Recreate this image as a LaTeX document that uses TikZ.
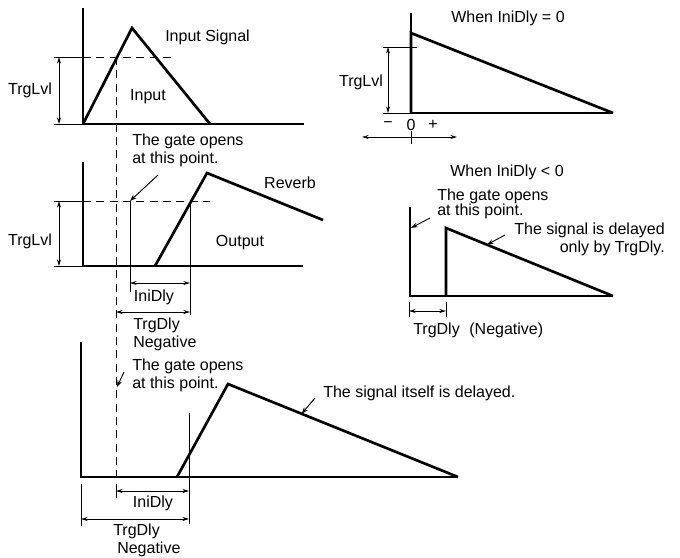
\documentclass[tikz,border=0pt]{standalone}
\usepackage{fontspec}
\setmainfont{Liberation Sans}
\usetikzlibrary{arrows.meta,positioning}

\begin{document}
\begin{tikzpicture}[
        x=0.75pt, y=-0.75pt,
        sig/.style={line width=2pt, line join=miter},
        axis/.style={line width=0.9pt},
        ext/.style={line width=0.6pt},
        gate/.style={line width=0.7pt, dash pattern=on 6pt off 4pt},
        dim/.style={line width=0.7pt, {Stealth[length=5pt,width=3pt]}-{Stealth[length=5pt,width=3pt]}},
        pointer/.style={line width=0.7pt, -{Stealth[length=5pt,width=3.5pt]}},
        lbl/.style={font=\fontsize{12}{13.5}\selectfont, inner sep=0pt},
        note/.style={lbl, align=left, font=\fontsize{12}{13.5}\selectfont}
    ]
    \useasboundingbox (0,0) rectangle (680,557);

    % input signal
    \draw[axis] (83,8) -- (83,124) -- (304,124);
    \draw[sig] (83,124) -- (132,28) -- (210,124);
    \draw[gate] (83,57) -- (175,57);
    \draw[ext] (54,57) -- (83,57) (54,124) -- (83,124);
    \coordinate (lvlAtop) at (59,57);
    \coordinate (lvlAbot) at (59,124);
    \draw[dim] (lvlAtop) -- (lvlAbot);
    \node[lbl] (lvlA) at (30,90) {TrgLvl};
    \node[lbl, anchor=west] (insig) at (165,37) {Input Signal};
    \node[lbl] (input) at (148,97) {Input};

    % gate line through all three
    \coordinate (gtop) at (116,57);
    \coordinate (gbot) at (116,477);
    \draw[gate] (gtop) -- (gbot);

    % output with reverb
    \draw[axis] (83,162) -- (83,266) -- (303,266);
    \draw[gate] (83,201) -- (210,201);
    \draw[ext] (54,201) -- (83,201) (54,266) -- (83,266);
    \coordinate (lvlBtop) at (59,201);
    \coordinate (lvlBbot) at (59,266);
    \draw[dim] (lvlBtop) -- (lvlBbot);
    \node[lbl] (lvlB) at (30,241) {TrgLvl};
    \coordinate (openB) at (130,201);
    \draw[ext] (openB) -- (130,292);
    \draw[ext] (190,201) -- (190,315);
    \draw[sig] (155,266) -- (207,173) -- (323,220);
    \node[lbl] (reverb) at (290,183) {Reverb};
    \node[lbl] (output) at (240,243) {Output};
    \node[note, anchor=west] (gateB) at (132,150) {The gate opens\\at this point.};
    \draw[pointer] (158,175) -- (openB);
    \coordinate (iniBl) at (130,283);
    \coordinate (iniBr) at (190,283);
    \draw[dim] (iniBl) -- (iniBr);
    \node[lbl] (iniB) at (154,297) {IniDly};
    \coordinate (trgBl) at (116,312);
    \coordinate (trgBr) at (190,312);
    \draw[dim] (trgBl) -- (trgBr);
    \node[note, anchor=north west] (trgB) at (133,318) {TrgDly\\Negative};

    % output, delayed signal
    \draw[axis] (81,342) -- (81,477) -- (458,477);
    \draw[sig] (177,477) -- (228,384) -- (458,477);
    \path (228,384) -- (458,477) coordinate[pos=0.32] (dlyhit);
    \draw[ext] (189,413) -- (189,524);
    \draw[ext] (81,484) -- (81,526) (116,484) -- (116,498);
    \coordinate (iniCl) at (116,491);
    \coordinate (iniCr) at (189,491);
    \draw[dim] (iniCl) -- (iniCr);
    \node[lbl] (iniC) at (153,503) {IniDly};
    \coordinate (trgCl) at (81,519);
    \coordinate (trgCr) at (189,519);
    \draw[dim] (trgCl) -- (trgCr);
    \node[note, anchor=north west] (trgC) at (113,524) {TrgDly\\\hspace*{3pt}Negative};
    \node[note, anchor=west] (gateC) at (132,375) {The gate opens\\at this point.};
    \coordinate (openC) at (117,387);
    \draw[pointer] (124,372) -- (openC);
    \node[lbl, anchor=west] (itself) at (323,393) {The signal itself is delayed.};
    \draw[pointer] (315,398) -- (dlyhit);

    % when IniDly = 0
    \node[lbl] (zero) at (508,18) {When IniDly = 0};
    \draw[axis] (411,13) -- (411,113) -- (613,113);
    \draw[sig] (411,113) -- (411,33) -- (613,113);
    \draw[ext] (383,47) -- (417,47) (383,113) -- (411,113);
    \coordinate (lvlDtop) at (388,47);
    \coordinate (lvlDbot) at (388,113);
    \draw[dim] (lvlDtop) -- (lvlDbot);
    \node[lbl] (lvlD) at (361,82) {TrgLvl};
    \node[lbl] (minus) at (388,125) {−};
    \node[lbl] (nought) at (411,125) {0};
    \node[lbl] (plus) at (433,125) {+};
    \coordinate (signl) at (362,137);
    \coordinate (signr) at (457,137);
    \draw[dim] (signl) -- (signr);
    \draw[ext] (411,131) -- (411,144);

    % when IniDly < 0
    \node[lbl] (neg) at (507,172) {When IniDly < 0};
    \draw[axis] (410,207) -- (410,296) -- (613,296);
    \draw[sig] (446,296) -- (446,228) -- (613,296);
    \path (446,228) -- (613,296) coordinate[pos=0.245] (onlyhit);
    \node[note, anchor=west, font=\fontsize{12}{11.5}\selectfont] (gateE) at (437,204) {The gate opens\\at this point.};
    \coordinate (openE) at (411,228);
    \draw[pointer] (430,218) -- (openE);
    \node[lbl, align=right, anchor=east] (only) at (665,239) {The signal is delayed\\only by TrgDly.};
    \draw[pointer] (505,235) -- (onlyhit);
    \draw[ext] (409,302) -- (409,317) (446,302) -- (446,317);
    \coordinate (trgEl) at (409,311);
    \coordinate (trgEr) at (446,311);
    \draw[dim] (trgEl) -- (trgEr);
    \node[lbl, anchor=west] (trgE) at (413,330) {TrgDly\hspace{0.6em}(Negative)};
\end{tikzpicture}
\end{document}
